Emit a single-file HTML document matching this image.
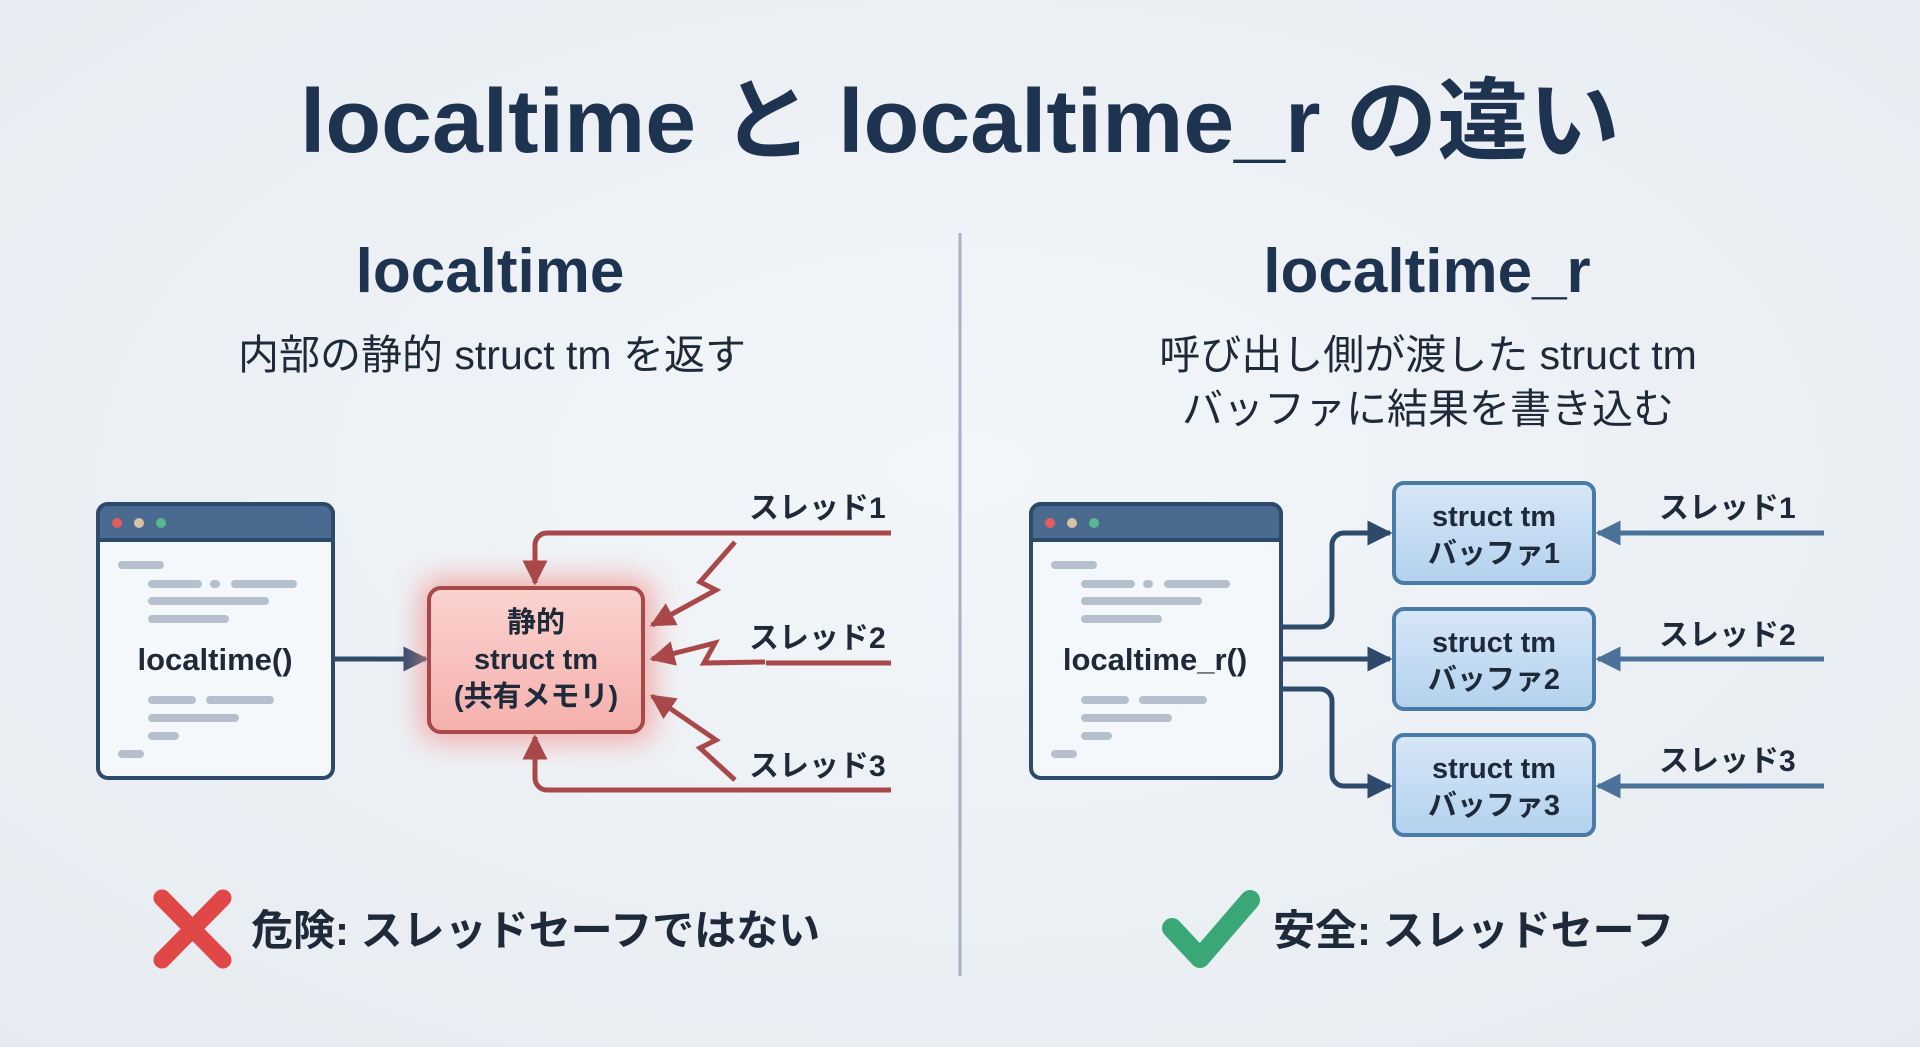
<!DOCTYPE html>
<html><head><meta charset="utf-8"><style>
html,body{margin:0;padding:0;background:#eef2f6;}
svg{display:block;}
text{font-family:"Liberation Sans","Noto Sans CJK JP",sans-serif;}
</style></head><body>
<svg width="1920" height="1047" viewBox="0 0 1920 1047" xmlns="http://www.w3.org/2000/svg">
<defs>
<radialGradient id="bg" cx="50%" cy="45%" r="75%"><stop offset="0" stop-color="#f3f6f9"/><stop offset="1" stop-color="#e6ebf1"/></radialGradient>
<filter id="glow" x="-40%" y="-40%" width="180%" height="180%"><feGaussianBlur stdDeviation="14"/></filter>
<linearGradient id="blue" x1="0" y1="0" x2="0" y2="1"><stop offset="0" stop-color="#d6e7f7"/><stop offset="1" stop-color="#b3d1ee"/></linearGradient>
<linearGradient id="red" x1="0" y1="0" x2="0" y2="1"><stop offset="0" stop-color="#fbd3d0"/><stop offset="1" stop-color="#f5b0ac"/></linearGradient>
<marker id="ar" viewBox="0 0 10 10" refX="9" refY="5" markerWidth="5" markerHeight="5" orient="auto"><path d="M0,0 L10,5 L0,10 z" fill="#a84848"/></marker>
<marker id="ab" viewBox="0 0 10 10" refX="9" refY="5" markerWidth="5" markerHeight="5" orient="auto"><path d="M0,0 L10,5 L0,10 z" fill="#2d4a6b"/></marker>
<marker id="ab2" viewBox="0 0 10 10" refX="9" refY="5" markerWidth="5" markerHeight="5" orient="auto"><path d="M0,0 L10,5 L0,10 z" fill="#4d7299"/></marker>
</defs>
<rect width="1920" height="1047" fill="url(#bg)"/>

<text x="960" y="152" text-anchor="middle" font-size="90" font-weight="bold" fill="#1e3350" textLength="1320" lengthAdjust="spacingAndGlyphs">localtime と localtime_r の違い</text>

<line x1="960" y1="233" x2="960" y2="976" stroke="#9fb3c8" stroke-width="3"/>

<text x="490" y="292" text-anchor="middle" font-size="62" font-weight="bold" fill="#1e3350">localtime</text>
<text x="492" y="369" text-anchor="middle" font-size="41" fill="#1e2a3a">内部の静的 struct tm を返す</text>
<text x="1427" y="292" text-anchor="middle" font-size="62" font-weight="bold" fill="#1e3350">localtime_r</text>
<text x="1428" y="369" text-anchor="middle" font-size="41" fill="#1e2a3a">呼び出し側が渡した struct tm</text>
<text x="1428" y="423" text-anchor="middle" font-size="41" fill="#1e2a3a">バッファに結果を書き込む</text>

<g>
<rect x="98" y="504" width="235" height="274" rx="10" fill="#f5f8fb" stroke="#2d4a6b" stroke-width="4"/>
<path d="M98,540 V514 a10,10 0 0 1 10,-10 H323 a10,10 0 0 1 10,10 V540 z" fill="#4a6b8f" stroke="#2d4a6b" stroke-width="4"/>
<circle cx="117" cy="523" r="5" fill="#e25d5d"/><circle cx="139" cy="523" r="5" fill="#d9c3a8"/><circle cx="161" cy="523" r="5" fill="#58b890"/>
<g stroke="#b5c0cc" stroke-width="8" stroke-linecap="round">
<line x1="122" y1="565" x2="160" y2="565"/><line x1="152" y1="584" x2="198" y2="584"/><line x1="214" y1="584" x2="216" y2="584"/><line x1="235" y1="584" x2="293" y2="584"/>
<line x1="152" y1="601" x2="265" y2="601"/><line x1="152" y1="619" x2="225" y2="619"/>
<line x1="152" y1="700" x2="192" y2="700"/><line x1="210" y1="700" x2="270" y2="700"/><line x1="152" y1="718" x2="235" y2="718"/><line x1="152" y1="736" x2="175" y2="736"/><line x1="122" y1="754" x2="140" y2="754"/>
</g>
<text x="215" y="670" text-anchor="middle" font-size="31" font-weight="bold" fill="#1e2a3a">localtime()</text>
</g>
<line x1="333" y1="659" x2="426" y2="659" stroke="#2d4a6b" stroke-width="5" marker-end="url(#ab)"/>

<rect x="420" y="578" width="234" height="164" rx="20" fill="#f48e8a" opacity="0.7" filter="url(#glow)"/>
<rect x="429" y="588" width="214" height="144" rx="12" fill="url(#red)" stroke="#a84848" stroke-width="4"/>
<text x="536" y="632" text-anchor="middle" font-size="29" font-weight="bold" fill="#1e2a3a">静的</text>
<text x="536" y="669" text-anchor="middle" font-size="29" font-weight="bold" fill="#1e2a3a">struct tm</text>
<text x="536" y="706" text-anchor="middle" font-size="29" font-weight="bold" fill="#1e2a3a">(共有メモリ)</text>

<g fill="none" stroke="#a84848" stroke-width="5">
<path d="M891,533 H547 a12,12 0 0 0 -12,12 V583" marker-end="url(#ar)"/>
<path d="M891,790 H547 a12,12 0 0 1 -12,-12 V737" marker-end="url(#ar)"/>
<path d="M891,663 H766"/>
<path d="M735,542 L700,582 L716,590 L652,625" marker-end="url(#ar)"/>
<path d="M765,662 L704,663 L715,643 L652,659" marker-end="url(#ar)"/>
<path d="M735,780 L700,748 L716,740 L652,696" marker-end="url(#ar)"/>
</g>
<g font-size="30" fill="#1e2a3a" font-weight="bold">
<text x="749" y="518">スレッド1</text>
<text x="749" y="648">スレッド2</text>
<text x="749" y="776">スレッド3</text>
</g>

<g>
<rect x="1031" y="504" width="250" height="274" rx="10" fill="#f5f8fb" stroke="#2d4a6b" stroke-width="4"/>
<path d="M1031,540 V514 a10,10 0 0 1 10,-10 H1271 a10,10 0 0 1 10,10 V540 z" fill="#4a6b8f" stroke="#2d4a6b" stroke-width="4"/>
<circle cx="1050" cy="523" r="5" fill="#e25d5d"/><circle cx="1072" cy="523" r="5" fill="#d9c3a8"/><circle cx="1094" cy="523" r="5" fill="#58b890"/>
<g stroke="#b5c0cc" stroke-width="8" stroke-linecap="round">
<line x1="1055" y1="565" x2="1093" y2="565"/><line x1="1085" y1="584" x2="1131" y2="584"/><line x1="1147" y1="584" x2="1149" y2="584"/><line x1="1168" y1="584" x2="1226" y2="584"/>
<line x1="1085" y1="601" x2="1198" y2="601"/><line x1="1085" y1="619" x2="1158" y2="619"/>
<line x1="1085" y1="700" x2="1125" y2="700"/><line x1="1143" y1="700" x2="1203" y2="700"/><line x1="1085" y1="718" x2="1168" y2="718"/><line x1="1085" y1="736" x2="1108" y2="736"/><line x1="1055" y1="754" x2="1073" y2="754"/>
</g>
<text x="1155" y="670" text-anchor="middle" font-size="31" font-weight="bold" fill="#1e2a3a">localtime_r()</text>
</g>
<g fill="none" stroke="#2d4a6b" stroke-width="5">
<path d="M1281,627 H1320 a12,12 0 0 0 12,-12 V545 a12,12 0 0 1 12,-12 H1390" marker-end="url(#ab)"/>
<path d="M1281,659 H1390" marker-end="url(#ab)"/>
<path d="M1281,689 H1320 a12,12 0 0 1 12,12 V774 a12,12 0 0 0 12,12 H1390" marker-end="url(#ab)"/>
</g>
<g>
<rect x="1394" y="483" width="200" height="100" rx="10" fill="url(#blue)" stroke="#4a7aa6" stroke-width="4"/>
<rect x="1394" y="609" width="200" height="100" rx="10" fill="url(#blue)" stroke="#4a7aa6" stroke-width="4"/>
<rect x="1394" y="735" width="200" height="100" rx="10" fill="url(#blue)" stroke="#4a7aa6" stroke-width="4"/>
</g>
<g font-size="29" font-weight="bold" fill="#1e2a3a" text-anchor="middle">
<text x="1494" y="526">struct tm</text><text x="1494" y="563">バッファ1</text>
<text x="1494" y="652">struct tm</text><text x="1494" y="689">バッファ2</text>
<text x="1494" y="778">struct tm</text><text x="1494" y="815">バッファ3</text>
</g>
<g fill="none" stroke="#4d7299" stroke-width="5">
<line x1="1824" y1="533" x2="1598" y2="533" marker-end="url(#ab2)"/>
<line x1="1824" y1="659" x2="1598" y2="659" marker-end="url(#ab2)"/>
<line x1="1824" y1="786" x2="1598" y2="786" marker-end="url(#ab2)"/>
</g>
<g font-size="30" fill="#1e2a3a" font-weight="bold">
<text x="1659" y="518">スレッド1</text>
<text x="1659" y="645">スレッド2</text>
<text x="1659" y="771">スレッド3</text>
</g>

<g stroke="#e04848" stroke-width="17" stroke-linecap="round">
<line x1="162" y1="898" x2="223" y2="960"/><line x1="223" y1="898" x2="162" y2="960"/>
</g>
<text x="251" y="945" font-size="42" font-weight="bold" fill="#1e2a3a">危険: スレッドセーフではない</text>
<path d="M1172,928 L1200,958 L1250,900" fill="none" stroke="#3aa876" stroke-width="20" stroke-linecap="round" stroke-linejoin="round"/>
<text x="1273" y="945" font-size="42" font-weight="bold" fill="#1e2a3a">安全: スレッドセーフ</text>
</svg>
</body></html>
